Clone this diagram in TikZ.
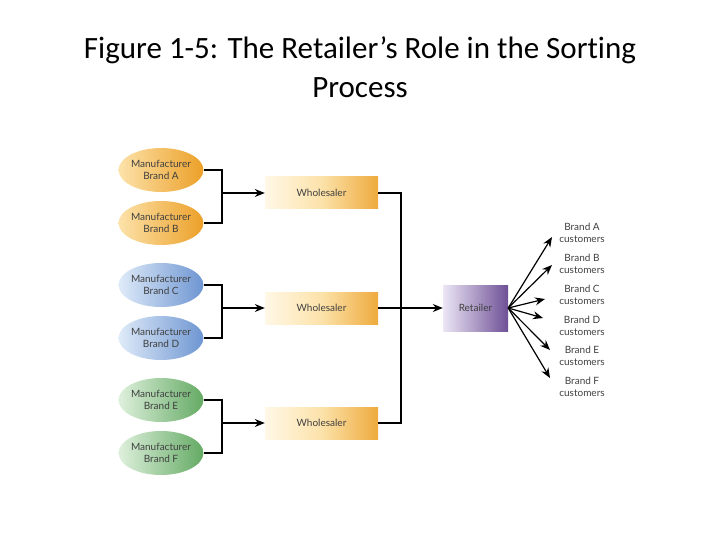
\documentclass[tikz,border=0pt]{standalone}
\usepackage{fontspec}
\setmainfont[Ligatures=NoCommon]{Carlito}
\newfontfamily\lbl{Lato}
\usetikzlibrary{shapes.geometric,arrows.meta}
\definecolor{orD}{RGB}{236,160,40}\definecolor{orL}{RGB}{252,226,170}
\definecolor{blD}{RGB}{110,150,210}\definecolor{blL}{RGB}{222,234,248}
\definecolor{grD}{RGB}{100,170,100}\definecolor{grL}{RGB}{222,240,220}
\definecolor{whL}{RGB}{255,248,230}\definecolor{puD}{RGB}{110,80,150}\definecolor{puL}{RGB}{236,230,245}
\begin{document}
\begin{tikzpicture}[x=1pt,y=-1pt,
  man/.style={ellipse,minimum width=80pt,minimum height=44pt,inner sep=0pt,align=center,font=\lbl\fontsize{10}{12}\selectfont,text=black!75},
  whs/.style={rectangle,minimum width=113pt,minimum height=32pt,left color=whL,right color=orD!90,middle color=orL,font=\lbl\fontsize{10}{12}\selectfont,text=black!75},
  cust/.style={align=center,font=\lbl\fontsize{10}{12.5}\selectfont,text=black!75},
  ln/.style={line width=1.2pt},
  ar/.style={line width=1.2pt,-{Stealth[length=10pt,width=8pt]}}]
\useasboundingbox (0,0) rectangle (720,540);
\node[font=\fontsize{31}{39}\selectfont,align=center] (title) at (360,67) {Figure 1-5: The Retailer’s Role in the Sorting\\Process};
\foreach \n/\y/\c/\b in {A/170/or/A,B/223/or/B,C/285/bl/C,D/338/bl/D,E/400/gr/E,F/453/gr/F}{
  \node[man,left color=\c L,right color=\c D] (m\n) at (161,\y) {Manufacturer\\Brand \b};}
\node[whs] (w1) at (321.5,193) {Wholesaler};
\node[whs] (w2) at (321.5,308) {Wholesaler};
\node[whs] (w3) at (321.5,423) {Wholesaler};
\node[rectangle,minimum width=65pt,minimum height=46pt,left color=puL,right color=puD,font=\lbl\fontsize{10}{12}\selectfont,text=black!75] (r) at (475.5,308) {Retailer};
\foreach \a/\b/\w/\y in {A/B/w1/193,C/D/w2/308,E/F/w3/423}{
  \draw[ln] (m\a.east) -- (222,170-193+\y) -- (222,223-193+\y) -- (m\b.east);
  \coordinate (j\w) at (222,\y);
  \draw[ar] (j\w) -- (\w.west);}
\draw[ln] (w1.east) -- (401,193) -- (401,423) -- (w3.east);
\draw[ln] (w2.east) -- (401,308);
\coordinate (jr) at (401,308);
\draw[ar] (jr) -- (r.west);
\foreach \k/\y/\tx/\ty in {A/233/552/237,B/264/552/265,C/295/545/299,D/326/543/318,E/356/550/350,F/387/550/378}{
  \node[cust] (c\k) at (582,\y) {Brand \k\\customers};
  \coordinate (t\k) at (\tx,\ty);
  \draw[ar] (r.east) -- (t\k);}
\end{tikzpicture}
\end{document}
